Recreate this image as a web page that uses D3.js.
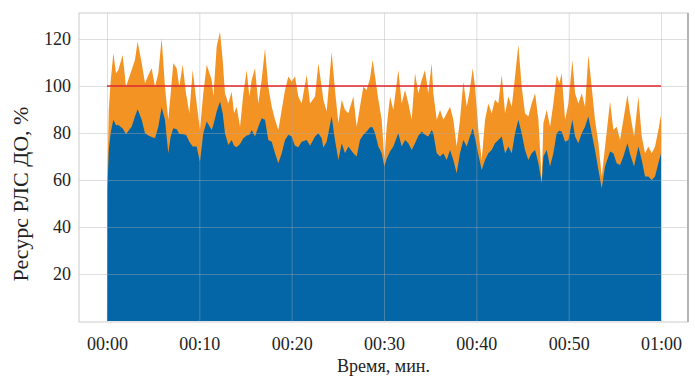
<!DOCTYPE html>
<html>
<head>
<meta charset="utf-8">
<script src="https://cdn.jsdelivr.net/npm/d3@7"></script>
<style>
  html, body { margin: 0; padding: 0; background: #ffffff; }
  svg { display: block; }
  text { font-family: "Liberation Serif", "DejaVu Serif", serif; fill: #222; }
</style>
</head>
<body>
<svg id="chart" width="695" height="378"></svg>
<script>
// ---- data (minutes; values in %) ----
const times = [0, 0.03, 0.2, 0.4,
  0.69, 0.98, 1.23, 1.70, 2.06, 2.67, 3.03, 3.32, 3.76, 4.12, 4.48, 4.84, 5.20, 5.56, 5.92, 6.28, 6.64, 6.90, 7.18, 7.55, 7.83, 8.20, 8.56, 8.92, 9.28, 9.71, 10.07, 10.43, 10.80, 11.34,
  11.52, 11.88, 12.24, 12.53, 12.78, 13.14, 13.50, 13.76, 14.04, 14.41, 14.77, 15.13, 15.42, 15.67, 16.03, 16.39, 16.75, 17.11, 17.47, 17.84, 18.20, 18.56, 18.92, 19.28, 19.64, 20.00, 20.36, 20.72, 21.08, 21.63, 21.99, 22.53, 22.89, 23.25,
  23.43, 23.79, 24.33, 24.69, 25.06, 25.42, 25.78, 26.14, 26.68, 27.04, 27.40, 27.76, 28.12, 28.49, 28.77, 29.03, 29.39, 29.75, 30.04, 30.29, 30.65, 31.01, 31.55, 31.92, 32.28, 32.64, 33.00, 33.36, 33.72, 34.08, 34.44, 34.80, 35.16,
  35.34, 35.71, 36.07, 36.43, 36.79, 37.15, 37.51, 37.87, 38.23, 38.59, 38.96, 39.24, 39.61, 39.86, 40.22, 40.58, 40.94, 41.30, 41.66, 42.02, 42.38, 42.75, 43.11, 43.47, 43.83, 44.19, 44.55, 44.91, 45.27, 45.63, 45.99, 46.36, 46.72, 47.08,
  47.26, 47.62, 47.98, 48.34, 48.70, 48.99, 49.24, 49.61, 49.97, 50.40, 50.69, 51.05, 51.41, 51.77, 52.13, 52.49, 52.85, 53.22, 53.58, 53.94, 54.48, 54.84, 55.20, 55.56, 55.92, 56.36, 56.65, 57.08, 57.55, 57.91, 58.27, 58.63, 58.99, 59.35, 59.71, 60.0];

// lower (blue) series
const baseValues = [0, 55, 73, 80,
  85.6, 83.3, 83.4, 81.9, 79.6, 82.7, 87.0, 90.1, 85.6, 79.9, 78.9, 78.3, 77.8, 82.7, 90.9, 85.6, 71.4, 78.5, 82.0, 81.6, 79.6, 79.5, 79.2, 76.3, 74.2, 74.2, 67.8, 79.9, 84.9, 81.3,
  83.4, 89.1, 93.4, 88.4, 79.9, 74.9, 77.0, 74.6, 73.9, 75.3, 77.8, 78.9, 79.3, 81.3, 78.5, 82.7, 86.3, 85.6, 77.0, 76.3, 71.4, 67.1, 71.4, 77.0, 79.2, 78.5, 74.6, 73.9, 76.3, 77.0, 74.6, 78.5, 79.9, 77.8,
  73.8, 76.3, 87.0, 77.0, 68.5, 75.6, 71.4, 74.2, 71.4, 70.0, 77.0, 79.2, 80.6, 82.4, 82.4, 79.9, 74.2, 71.4, 65.7, 69.0, 72.1, 74.2, 79.9, 74.2, 77.0, 75.6, 72.8, 75.6, 78.8, 80.6, 79.2, 78.5, 81.3,
  79.9, 71.4, 70.0, 71.4, 68.5, 72.8, 68.5, 62.9, 71.4, 77.0, 74.2, 77.8, 82.0, 77.8, 70.7, 64.3, 68.5, 71.4, 72.8, 75.6, 77.0, 78.5, 71.4, 74.2, 71.4, 79.9, 85.6, 79.9, 72.8, 68.5, 71.4, 72.8, 67.1, 58.6,
  70.0, 72.8, 65.7, 71.4, 79.9, 81.0, 80.6, 76.3, 77.0, 85.6, 78.5, 75.6, 79.9, 82.7, 87.0, 79.9, 72.8, 64.3, 56.5, 65.7, 72.1, 71.4, 67.1, 66.4, 70.0, 75.6, 71.1, 65.7, 74.2, 68.5, 61.5, 61.5, 60.0, 61.5, 67.1, 71.4];

// upper edge of the stack (orange top)
const totalValues = [0, 60, 90, 102,
  113.9, 105.4, 106.8, 113.2, 99.7, 106.8, 111.1, 118.9, 109.7, 101.2, 104.7, 107.5, 99.7, 105.4, 120.3, 99.7, 85.6, 96.9, 109.7, 107.5, 99.7, 109.0, 96.9, 88.4, 106.8, 92.6, 81.3, 96.9, 109.0, 102.6,
  95.5, 116.8, 123.1, 111.1, 96.9, 92.6, 97.6, 88.4, 91.2, 82.7, 96.9, 106.8, 95.5, 102.6, 107.5, 92.6, 102.6, 116.0, 99.7, 91.2, 85.6, 81.3, 89.8, 98.3, 104.0, 101.9, 104.0, 95.5, 92.6, 104.7, 92.6, 95.5, 109.7, 99.7,
  94.1, 89.1, 114.6, 98.3, 84.1, 94.1, 89.8, 88.4, 95.5, 82.7, 91.2, 99.7, 98.3, 103.3, 111.1, 104.0, 94.1, 85.6, 68.5, 82.7, 95.5, 89.8, 106.8, 92.6, 98.3, 92.6, 85.6, 105.4, 96.9, 102.6, 106.8, 96.9, 109.7,
  96.9, 85.6, 89.8, 85.6, 88.4, 91.2, 85.6, 74.2, 85.6, 101.9, 91.2, 96.9, 107.5, 99.7, 81.3, 68.5, 85.6, 92.6, 88.4, 94.1, 92.6, 104.7, 88.4, 95.5, 91.2, 104.0, 117.5, 99.7, 88.4, 87.0, 92.6, 96.9, 85.6, 60.0,
  84.1, 89.8, 82.7, 92.6, 104.7, 101.2, 105.4, 85.6, 92.6, 111.1, 96.9, 92.6, 96.9, 91.2, 113.2, 99.7, 85.6, 75.6, 61.5, 74.2, 93.4, 81.3, 82.7, 77.0, 85.6, 96.2, 88.4, 78.5, 95.5, 78.5, 71.4, 74.2, 71.4, 74.2, 81.3, 87.7];

const limitValue = 100;
const xTickValues = [0, 10, 20, 30, 40, 50, 60];
const xTickLabels = ["00:00", "00:10", "00:20", "00:30", "00:40", "00:50", "01:00"];
const yTickValues = [20, 40, 60, 80, 100, 120];
const xTitle = "Время, мин.";
const yTitle = "Ресурс РЛС ДО, %";

// ---- layout ----
const plot = { left: 79, right: 688, top: 13, bottom: 322 };
const svg = d3.select("#chart");

const x = d3.scaleLinear().domain([-3.03, 62.92]).range([plot.left, plot.right]);
const y = d3.scaleLinear().domain([-0.43, 131.06]).range([plot.bottom, plot.top]);

const data = times.map((t, i) => ({ t, base: baseValues[i], total: totalValues[i] }));

const g = svg.append("g");

// total (orange) area drawn first, base (blue) on top
g.append("path")
  .datum(data)
  .attr("fill", "#f39324")
  .attr("d", d3.area().x(d => x(d.t)).y0(y(0)).y1(d => y(d.total)));

g.append("path")
  .datum(data)
  .attr("fill", "#0466a7")
  .attr("d", d3.area().x(d => x(d.t)).y0(y(0)).y1(d => y(d.base)));

// grid lines (over the areas, semi-transparent)
const gridColor = "#a9a9a9";
g.append("g")
  .attr("transform", `translate(0,${plot.bottom})`)
  .call(d3.axisBottom(x).tickValues(xTickValues).tickSize(-(plot.bottom - plot.top)).tickFormat(""))
  .call(s => s.select(".domain").remove())
  .call(s => s.selectAll("line").attr("stroke", gridColor).attr("stroke-opacity", 0.4));

g.append("g")
  .attr("transform", `translate(${plot.left},0)`)
  .call(d3.axisLeft(y).tickValues(yTickValues).tickSize(-(plot.right - plot.left)).tickFormat(""))
  .call(s => s.select(".domain").remove())
  .call(s => s.selectAll("line").attr("stroke", gridColor).attr("stroke-opacity", 0.4));

// limit line at 100 %
g.append("line")
  .attr("x1", x(0)).attr("x2", x(60))
  .attr("y1", y(limitValue)).attr("y2", y(limitValue))
  .attr("stroke", "#e0262b").attr("stroke-width", 1.5);

// frame
g.append("rect")
  .attr("x", plot.left).attr("y", plot.top)
  .attr("width", plot.right - plot.left).attr("height", plot.bottom - plot.top)
  .attr("fill", "none").attr("stroke", "#cccccc").attr("stroke-width", 1);
g.append("line")
  .attr("x1", plot.right).attr("x2", plot.right)
  .attr("y1", plot.top).attr("y2", plot.bottom)
  .attr("stroke", "#b3b3b3").attr("stroke-width", 2);

// tick labels
const xAxis = svg.append("g").attr("transform", `translate(0,${plot.bottom})`)
  .call(d3.axisBottom(x).tickValues(xTickValues).tickSize(0).tickPadding(0)
    .tickFormat((d, i) => xTickLabels[i]));
xAxis.select(".domain").remove();
xAxis.selectAll("text")
  .attr("y", 28).attr("dy", 0)
  .style("font-family", '"Liberation Serif", serif').style("font-size", "18px").attr("fill", "#222");

const yAxis = svg.append("g").attr("transform", `translate(${plot.left},0)`)
  .call(d3.axisLeft(y).tickValues(yTickValues).tickSize(0).tickPadding(0));
yAxis.select(".domain").remove();
yAxis.selectAll("text")
  .attr("x", -8).attr("dy", "0.33em")
  .style("font-family", '"Liberation Serif", serif').style("font-size", "18px").attr("fill", "#222");

// titles
svg.append("text")
  .attr("x", (plot.left + plot.right) / 2).attr("y", 372)
  .attr("text-anchor", "middle")
  .style("font-size", "18px")
  .text(xTitle);

svg.append("text")
  .attr("transform", "translate(28,194) rotate(-90)")
  .attr("text-anchor", "middle")
  .style("font-size", "22px")
  .text(yTitle);
</script>
</body>
</html>
